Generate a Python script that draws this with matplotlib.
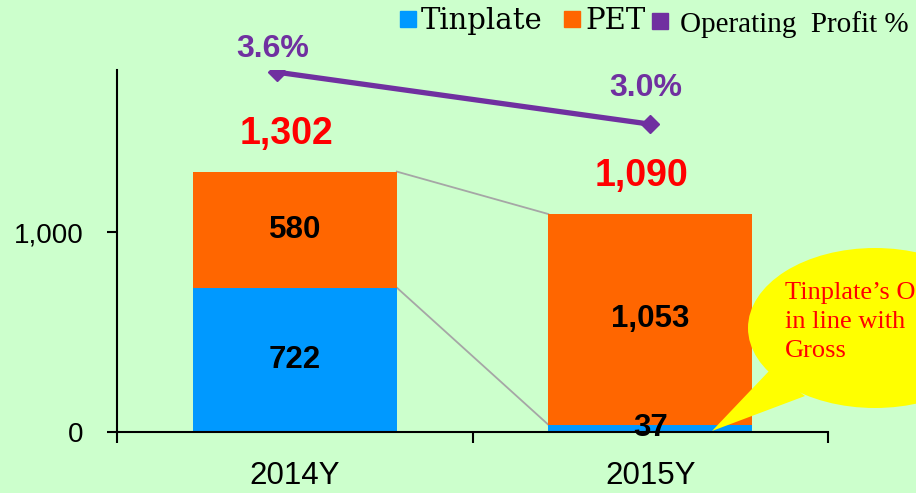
import numpy as np
import matplotlib
matplotlib.use("Agg")
import matplotlib.pyplot as plt
from matplotlib.lines import Line2D
from matplotlib.patches import Ellipse, Polygon

# ==================== DATA ====================

years = ["2014Y", "2015Y"]
tinplate = [722, 37]
pet = [580, 1053]
op_profit = [3.6, 3.0]
yticks = [0, 1000]
ytick_labels = ["0", "1,000"]

BG = "#CCFFCC"
BLUE = "#0099FF"
ORANGE = "#FF6600"
PURPLE = "#7030A0"

# ==================== FIGURE ====================

fig = plt.figure(figsize=(9.16, 4.93), dpi=100, facecolor=BG)
ax = fig.add_axes([117/916, 61/493, 711/916, 362/493])
ax.set_facecolor(BG)

x = np.arange(len(years))
w = 0.574
totals = [a + b for a, b in zip(tinplate, pet)]

ax.bar(x, tinplate, w, color=BLUE, zorder=2)
ax.bar(x, pet, w, bottom=tinplate, color=ORANGE, zorder=2)

# connector lines between the two stacks
ax.plot([x[0] + w/2, x[1] - w/2], [tinplate[0], tinplate[1]], color="#A6A6A6", lw=1.3, zorder=1)
ax.plot([x[0] + w/2, x[1] - w/2], [totals[0], totals[1]], color="#A6A6A6", lw=1.3, zorder=1)

for i in range(len(years)):
    ax.text(x[i], tinplate[i] / 2, str(tinplate[i]), ha="center", va="center",
            fontsize=22.5, fontweight="bold", family="Liberation Sans", zorder=3)
    ax.text(x[i], tinplate[i] + pet[i] / 2, f"{pet[i]:,}", ha="center", va="center",
            fontsize=22.5, fontweight="bold", family="Liberation Sans", zorder=3)
    ax.annotate(f"{totals[i]:,}", (x[i], totals[i]), xytext=(-6, 27), textcoords="offset points",
                ha="center", va="center", fontsize=27, fontweight="bold",
                color="red", family="Liberation Sans")

ax.set_xlim(-0.5, 1.5)
ax.set_ylim(0, 1810)
ax.set_yticks(yticks)
ax.set_yticklabels(ytick_labels, fontsize=20, family="Liberation Sans")
ax.set_xticks(x)
ax.set_xticklabels(years, fontsize=22.5, family="Liberation Sans")
ax.set_xticks([-0.5, 0.5, 1.5], minor=True)
ax.tick_params(axis="x", which="major", length=0, pad=21)
ax.tick_params(axis="x", which="minor", length=8, width=1.5, direction="out")
ax.tick_params(axis="y", length=7, width=1.5, direction="out", pad=17)
for s in ["top", "right"]:
    ax.spines[s].set_visible(False)
for s in ["left", "bottom"]:
    ax.spines[s].set_linewidth(1.5)

# operating profit line on hidden secondary axis
ax2 = ax.twinx()
ax2.set_ylim(-0.55, 3.625)
ax2.axis("off")
line_x = x + np.array([-0.05, 0.0])
ax2.plot(line_x, op_profit, color=PURPLE, lw=3.8, marker="D", markersize=9, zorder=4)
for i in range(len(years)):
    ax2.annotate(f"{op_profit[i]:.1f}%", (line_x[i], op_profit[i]), xytext=(-3, 17 if i == 0 else 26),
                 textcoords="offset points", ha="center", va="center", fontsize=23,
                 fontweight="bold", color=PURPLE, family="Liberation Sans")

# legend (two parts, the profit entry sits a bit lower)
h_bars = [Line2D([], [], marker="s", ls="none", color=BLUE, markersize=11),
          Line2D([], [], marker="s", ls="none", color=ORANGE, markersize=11)]
leg1 = fig.legend(h_bars, ["Tinplate", "PET"], loc="upper left",
                  bbox_to_anchor=(386/916, 1.015), ncol=2, frameon=False, borderpad=0,
                  handlelength=0.5, handletextpad=0.2, columnspacing=0.75,
                  prop={"family": "DejaVu Serif", "size": 21})
h_line = [Line2D([], [], marker="s", ls="none", color=PURPLE, markersize=11)]
leg2 = fig.legend(h_line, ["Operating  Profit %"], loc="upper left",
                  bbox_to_anchor=(638/916, 1.008), frameon=False, borderpad=0,
                  handlelength=0.5, handletextpad=0.45,
                  prop={"family": "Liberation Serif", "size": 21})

# callout bubble
ov = fig.add_axes([0, 0, 1, 1])
ov.set_xlim(0, 916)
ov.set_ylim(493, 0)
ov.axis("off")
ov.add_patch(Ellipse((875, 328), 254, 160, color="yellow", lw=0))
ov.add_patch(Polygon([(712, 431), (770, 370), (805, 396)], closed=True, color="yellow", lw=0))
ov.text(785, 322, "Tinplate\u2019s OP\nin line with\nGross", ha="left", va="center",
        fontsize=19, color="red", family="Liberation Serif", linespacing=1.4)

fig.savefig("out.png", dpi=100, facecolor=BG)
